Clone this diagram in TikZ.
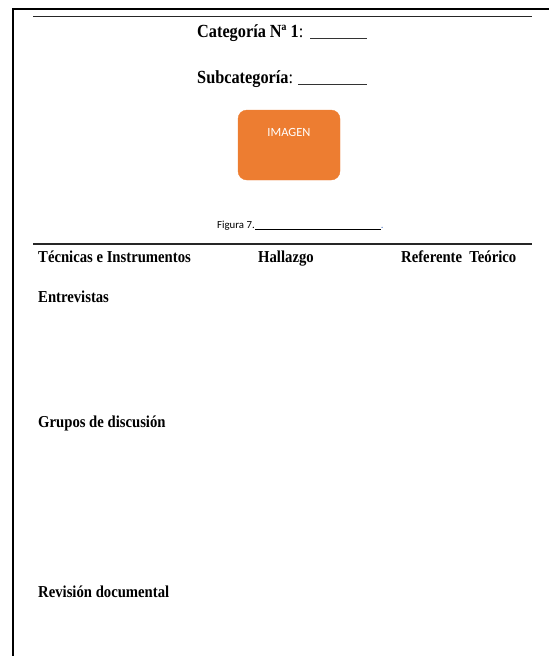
\documentclass[tikz,border=0pt]{standalone}
\usepackage{fontspec}
\setmainfont{Liberation Serif}
\newfontfamily\calib{Carlito}
\newfontfamily\tnr[FakeStretch=0.88]{Liberation Serif}
\definecolor{orangebox}{RGB}{237,125,49}
\definecolor{dotblue}{RGB}{90,130,200}
\begin{document}
\begin{tikzpicture}[x=1pt,y=-1pt,
  lbl/.style={font=\tnr\bfseries\fontsize{16.7}{18}\selectfont, inner sep=0pt, anchor=base west},
  ttl/.style={font=\tnr\bfseries\fontsize{18.5}{20}\selectfont, inner sep=0pt, anchor=base west},
  rule/.style={line width=1.2pt, black!85},
  uline/.style={line width=0.7pt, black!80}]
\useasboundingbox (0,0) rectangle (549,656);
\draw[line width=2pt] (13,656) -- (13,9) -- (549,9);
\draw[rule] (33,16.5) -- (532,16.5);
\draw[rule] (33,244) -- (532,244);
\node[ttl] (cat) at (197,37) {Categoría Nª 1\textmd{:}};
\coordinate (catA) at (310,38);
\coordinate (catB) at (367,38);
\draw[uline] (catA) -- (catB);
\node[ttl] (sub) at (197,83.5) {Subcategoría\textmd{:}};
\coordinate (subA) at (298,84.5);
\coordinate (subB) at (367,84.5);
\draw[uline] (subA) -- (subB);
\node[draw=orangebox, fill=orangebox, rounded corners=9pt, minimum width=102pt, minimum height=70pt, inner sep=0pt] (img) at (289,145) {};
\node[font=\calib\fontsize{12.5}{14}\selectfont, text=white, inner sep=0pt] (imgt) at (289,132) {IMAGEN};
\node[font=\calib\fontsize{10.8}{12}\selectfont, inner sep=0pt, anchor=base west] (fig) at (217,228) {Figura 7.\rule[-1.5pt]{126pt}{0.5pt}\textcolor{dotblue}{.}};
\node[lbl] (h1) at (38,262) {Técnicas e Instrumentos};
\node[lbl] (h2) at (258,262) {Hallazgo};
\node[lbl] (h3) at (401,262) {Referente\ \ Teórico};
\node[lbl] (r1) at (38,302.5) {Entrevistas};
\node[lbl] (r2) at (38,427.5) {Grupos de discusión};
\node[lbl] (r3) at (38,597) {Revisión documental};
\end{tikzpicture}
\end{document}
